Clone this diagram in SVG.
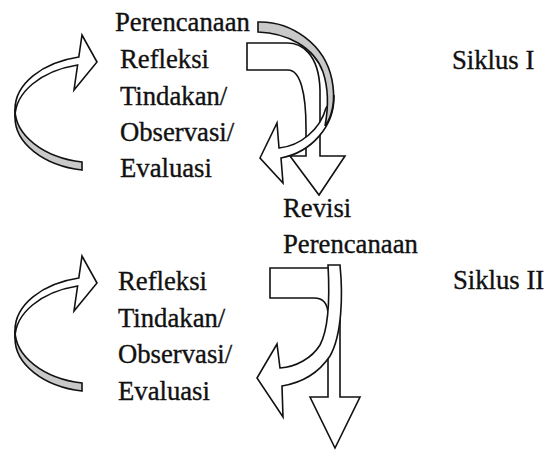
<svg xmlns="http://www.w3.org/2000/svg" width="549" height="450" viewBox="0 0 549 450">
<style>
.t{font-family:"Liberation Serif","Times New Roman",serif;font-size:26.7px;fill:#111;stroke:#111;stroke-width:0.35}
.a{fill:#fff;stroke:#111;stroke-width:1.6;stroke-linejoin:miter}
.g{fill:#c9c9c9;stroke:#111;stroke-width:1.6}
</style>
<defs>
<g id="loopArrow">
<path class="g" d="M 15 109.2 A 82 53.7 0 0 0 82 162 L 82 170 A 82 53.7 0 0 1 15 117.2 Z"/>
<path class="a" d="M 15 109.2 A 82 53.7 0 0 1 78.8 57 L 82 35 L 97 62 L 74 90 L 77.6 65 A 82 53.7 0 0 0 15 117.2 Z"/>
</g>
</defs>
<rect width="549" height="450" fill="#fff"/>
<g id="connectors">
<use href="#loopArrow"/>
<use href="#loopArrow" transform="translate(0,221)"/>
<path id="bent1" class="a" d="M 247 43 L 287 43 C 301 43 319 53 320 90 L 320 156 L 345 156 L 319 195 L 290 156 L 306 156 L 306 128 C 306 92 300 70 288 70 L 247 70 Z"/>
<path id="curve1" class="a" d="M 334 97 C 334 126 312 152 281 158 L 283 183 L 260 158 L 277 123 L 279 148 C 300 146 320 130 326 108 Z"/>
<path id="curve1back" class="g" d="M 258 22 C 291 21 325 44 332 80 C 336 100 332 117 325 126 C 328 110 329 90 323 72 C 314 47 287 33 258 32 Z"/>
<path id="bent2" class="a" d="M 270 268 L 330 268 Q 340 268 340 282 L 340 397 L 360 397 L 335 448 L 310 397 L 328 397 L 328 315 Q 328 298 314 298 L 270 298 Z"/>
<path id="curve2" class="a" d="M 328 265 L 340 265 C 343 295 342 335 330 356 C 318 374 300 383 282 386 L 283 417 L 257 378 L 277 344 L 280 368 C 296 367 312 358 320 345 C 328 330 330 300 328 265 Z"/>
</g>
<g id="perencanaan1"><text class="t" x="115" y="31">Perencanaan</text></g>
<g id="refleksi1"><text class="t" x="120" y="68">Refleksi</text></g>
<g id="tindakan1"><text class="t" x="120" y="105">Tindakan/</text></g>
<g id="observasi1"><text class="t" x="120" y="141">Observasi/</text></g>
<g id="evaluasi1"><text class="t" x="120" y="177">Evaluasi</text></g>
<g id="siklus1"><text class="t" x="452" y="69">Siklus I</text></g>
<g id="revisi"><text class="t" x="283" y="217">Revisi</text></g>
<g id="perencanaan2"><text class="t" x="283" y="253">Perencanaan</text></g>
<g id="refleksi2"><text class="t" x="118" y="290">Refleksi</text></g>
<g id="tindakan2"><text class="t" x="118" y="327">Tindakan/</text></g>
<g id="observasi2"><text class="t" x="118" y="363">Observasi/</text></g>
<g id="evaluasi2"><text class="t" x="118" y="400">Evaluasi</text></g>
<g id="siklus2"><text class="t" x="453" y="289">Siklus II</text></g>
</svg>
